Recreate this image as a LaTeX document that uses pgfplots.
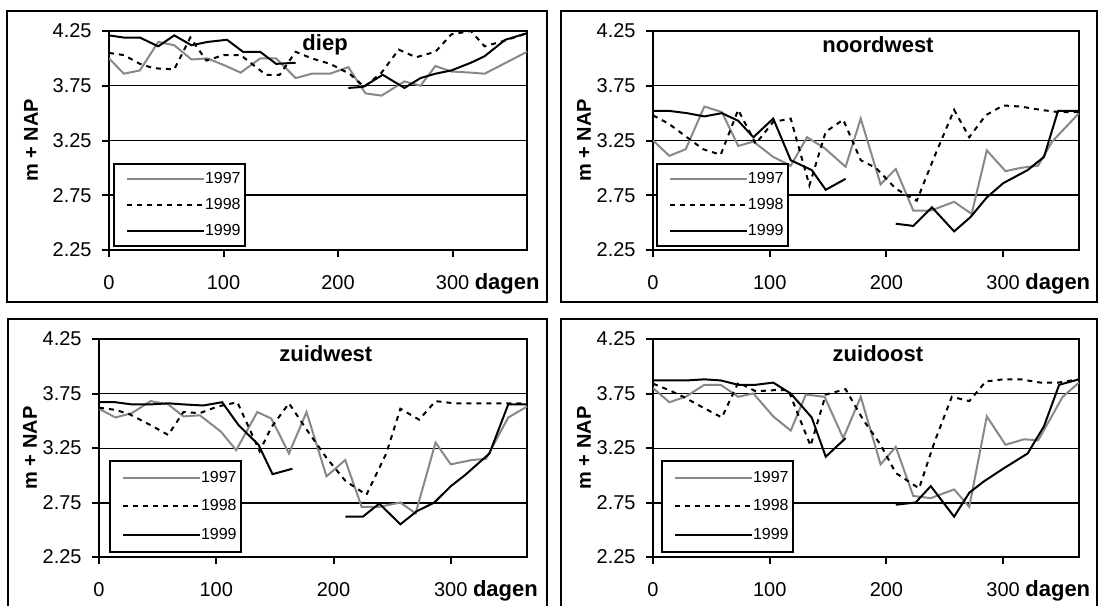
\documentclass[border=0pt]{standalone}
\usepackage{fontspec}
\setmainfont{Liberation Sans}
\usepackage{pgfplots}
\pgfplotsset{compat=1.18}
\definecolor{g97}{RGB}{136,136,136}
\newcommand{\wb}[1]{{\fontsize{11bp}{13bp}\selectfont\bfseries #1}}
\pgfplotsset{
  s97/.style={g97, line width=1bp},
  s98/.style={black, line width=1bp, dash pattern=on 2.5bp off 2.5bp},
  s99/.style={black, line width=1bp},
  panel/.style={
    scale only axis, anchor=south west,
    xmin=0, xmax=365, ymin=2.25, ymax=4.25,
    xtick={0,100,200,300},
    xticklabels={0,100,200,{300\rlap{ \wb{dagen}}}},
    ytick={2.25,3.25,3.75,4.25},
    yticklabels={2.25,3.25,3.75,4.25},
    extra y ticks={2.75}, extra y tick labels={2.75},
    extra y tick style={grid style={line width=1bp, black}},
    ymajorgrids, grid style={line width=0.5bp, black},
    tick align=outside, major tick length=3.5bp,
    xtick pos=bottom, ytick pos=left,
    tick style={line width=1bp, black},
    axis line style={line width=1bp},
    tick label style={font=\fontsize{10bp}{12bp}\selectfont},
    xticklabel style={anchor=base, inner sep=0pt, yshift=-16bp},
    yticklabel style={anchor=east, inner sep=0pt, xshift=-5bp},
    unbounded coords=jump,
    ylabel={m + NAP},
    ylabel style={font=\fontsize{10bp}{12bp}\selectfont\bfseries, at={(rel axis cs:0,0.5)}, anchor=center, yshift=34.5bp},
    every axis title shift=0pt,
    title style={anchor=base, inner sep=0pt},
    legend cell align=left,
    legend image code/.code={\path (0,0); \draw[##1] (4bp,0) -- (42.5bp,0);},
    legend style={anchor=north west, draw=black, line width=1bp, fill=white,
      inner xsep=2bp, inner ysep=3.75bp, row sep=5.5bp,
      font=\fontsize{8bp}{9.6bp}\selectfont,
      nodes={inner sep=0pt, text height=6bp, text depth=1.5bp},
      /tikz/every even column/.append style={column sep=1bp}},
  },
  bottomlegend/.style={legend style={inner ysep=4.75bp, row sep=6.75bp}},
}
\begin{document}
\begin{tikzpicture}
\useasboundingbox (0,0) rectangle (549.5bp,-303bp);
\draw[line width=1bp] (3.5bp,-5.5bp) rectangle (273.5bp,-151bp);
\draw[line width=1bp] (280.5bp,-5.5bp) rectangle (548.5bp,-151bp);
\draw[line width=1bp] (4bp,-310bp) -- (4bp,-159.5bp) -- (273.5bp,-159.5bp) -- (273.5bp,-310bp);
\draw[line width=1bp] (280.5bp,-310bp) -- (280.5bp,-159.5bp) -- (548.5bp,-159.5bp) -- (548.5bp,-310bp);

% ---------- diep ----------
\begin{axis}[panel, at={(54.5bp,-125bp)}, width=209bp, height=109.5bp,
  title={\wb{diep}}, title style={at={(rel axis cs:0.517,0.909)}},
  ylabel style={yshift=4.5bp},
  legend style={at={(rel axis cs:0.0096,0.397)}}]
\addplot[s97] coordinates {(0,4.00)(13,3.86)(27,3.89)(43,4.15)(57,4.12)(72,3.99)(86,4.00)(100,3.94)(115,3.87)(132,4.00)(146,4.00)(163,3.82)(177,3.86)(193,3.86)(209,3.92)(224,3.68)(238,3.66)(258,3.79)(272,3.75)(285,3.93)(299,3.88)(316,3.87)(328,3.86)(365,4.06)};
\addplot[s98] coordinates {(0,4.05)(13,4.03)(27,3.95)(39,3.91)(57,3.90)(71,4.19)(85,3.98)(100,4.03)(115,4.03)(137,3.85)(149,3.85)(163,4.06)(177,4.00)(193,3.95)(210,3.86)(223,3.74)(238,3.87)(253,4.08)(268,4.01)(285,4.06)(299,4.22)(316,4.25)(328,4.11)(345,4.16)(365,4.23)};
\addplot[s99] coordinates {(0,4.21)(13,4.19)(27,4.19)(43,4.11)(57,4.21)(72,4.12)(86,4.15)(103,4.17)(117,4.06)(132,4.06)(146,3.95)(163,3.96)(180,nan)(209,3.73)(222,3.74)(239,3.85)(258,3.73)(272,3.82)(285,3.86)(299,3.89)(316,3.96)(328,4.02)(346,4.17)(365,4.23)};
\legend{1997,1998,1999}
\end{axis}

% ---------- noordwest ----------
\begin{axis}[panel, at={(326.5bp,-125bp)}, width=213bp, height=109.5bp,
  title={\wb{noordwest}}, title style={at={(rel axis cs:0.528,0.90)}},
  legend style={at={(rel axis cs:0.007,0.397)}}]
\addplot[s97] coordinates {(0,3.25)(14,3.11)(28,3.17)(44,3.56)(59,3.51)(73,3.20)(86,3.24)(103,3.10)(118,3.02)(132,3.28)(147,3.18)(165,3.01)(178,3.45)(195,2.85)(208,2.99)(223,2.61)(238,2.61)(258,2.69)(273,2.58)(286,3.16)(302,2.97)(315,3.00)(330,3.02)(342,3.24)(365,3.50)};
\addplot[s98] coordinates {(0,3.48)(14,3.40)(29,3.28)(43,3.17)(58,3.12)(73,3.53)(88,3.22)(103,3.42)(118,3.45)(134,2.84)(148,3.33)(163,3.44)(178,3.07)(191,3.00)(208,2.81)(226,2.70)(241,3.10)(258,3.53)(271,3.28)(285,3.48)(300,3.57)(315,3.56)(332,3.53)(347,3.51)(365,3.51)};
\addplot[s99] coordinates {(0,3.52)(14,3.52)(29,3.50)(44,3.47)(59,3.50)(73,3.43)(86,3.28)(103,3.45)(118,3.07)(136,2.98)(148,2.80)(165,2.90)(180,nan)(208,2.49)(223,2.47)(239,2.64)(258,2.42)(272,2.55)(286,2.73)(300,2.86)(321,2.98)(335,3.10)(347,3.52)(365,3.52)};
\legend{1997,1998,1999}
\end{axis}

% ---------- zuidwest ----------
\begin{axis}[panel, bottomlegend, at={(49.5bp,-278.5bp)}, width=214bp, height=109bp,
  title={\wb{zuidwest}}, title style={at={(rel axis cs:0.530,0.899)}},
  legend style={at={(rel axis cs:0.0234,0.445)}}]
\addplot[s97] coordinates {(0,3.61)(14,3.53)(28,3.57)(44,3.68)(59,3.65)(72,3.54)(86,3.55)(104,3.40)(117,3.23)(135,3.58)(147,3.52)(162,3.20)(177,3.58)(194,2.99)(210,3.14)(224,2.71)(239,2.71)(257,2.75)(270,2.65)(287,3.30)(300,3.10)(318,3.14)(330,3.15)(349,3.53)(365,3.63)};
\addplot[s98] coordinates {(0,3.62)(14,3.60)(26,3.56)(44,3.46)(59,3.37)(72,3.58)(86,3.57)(101,3.63)(118,3.67)(137,3.22)(147,3.44)(162,3.66)(177,3.42)(194,3.16)(210,2.95)(228,2.82)(245,3.20)(257,3.61)(273,3.51)(287,3.68)(303,3.66)(320,3.66)(335,3.66)(350,3.66)(365,3.66)};
\addplot[s99] coordinates {(0,3.67)(14,3.67)(28,3.65)(44,3.65)(59,3.66)(72,3.65)(89,3.64)(105,3.67)(119,3.46)(136,3.28)(148,3.01)(165,3.06)(180,nan)(210,2.62)(225,2.62)(239,2.74)(257,2.55)(271,2.67)(286,2.75)(300,2.90)(312,3.00)(333,3.20)(349,3.65)(365,3.65)};
\legend{1997,1998,1999}
\end{axis}

% ---------- zuidoost ----------
\begin{axis}[panel, bottomlegend, at={(326.5bp,-278.5bp)}, width=213bp, height=109bp,
  title={\wb{zuidoost}}, title style={at={(rel axis cs:0.528,0.899)}},
  legend style={at={(rel axis cs:0.0188,0.445)}}]
\addplot[s97] coordinates {(0,3.80)(14,3.67)(28,3.72)(44,3.83)(58,3.83)(73,3.72)(86,3.75)(103,3.54)(118,3.41)(131,3.74)(147,3.72)(163,3.34)(178,3.72)(195,3.10)(208,3.26)(223,2.81)(238,2.79)(258,2.87)(271,2.71)(286,3.54)(302,3.28)(318,3.33)(330,3.32)(351,3.72)(365,3.85)};
\addplot[s98] coordinates {(0,3.84)(14,3.78)(26,3.72)(43,3.62)(59,3.53)(73,3.85)(88,3.77)(103,3.78)(116,3.78)(135,3.27)(148,3.74)(165,3.79)(180,3.51)(195,3.28)(208,3.02)(228,2.88)(241,3.30)(256,3.72)(271,3.68)(285,3.86)(300,3.88)(315,3.88)(332,3.85)(347,3.85)(365,3.88)};
\addplot[s99] coordinates {(0,3.87)(14,3.87)(29,3.87)(44,3.88)(58,3.87)(73,3.83)(88,3.83)(103,3.85)(118,3.75)(136,3.53)(148,3.17)(165,3.34)(180,nan)(208,2.73)(225,2.75)(238,2.90)(258,2.62)(271,2.84)(283,2.94)(300,3.06)(321,3.20)(335,3.45)(348,3.83)(365,3.88)};
\legend{1997,1998,1999}
\end{axis}
\end{tikzpicture}
\end{document}
